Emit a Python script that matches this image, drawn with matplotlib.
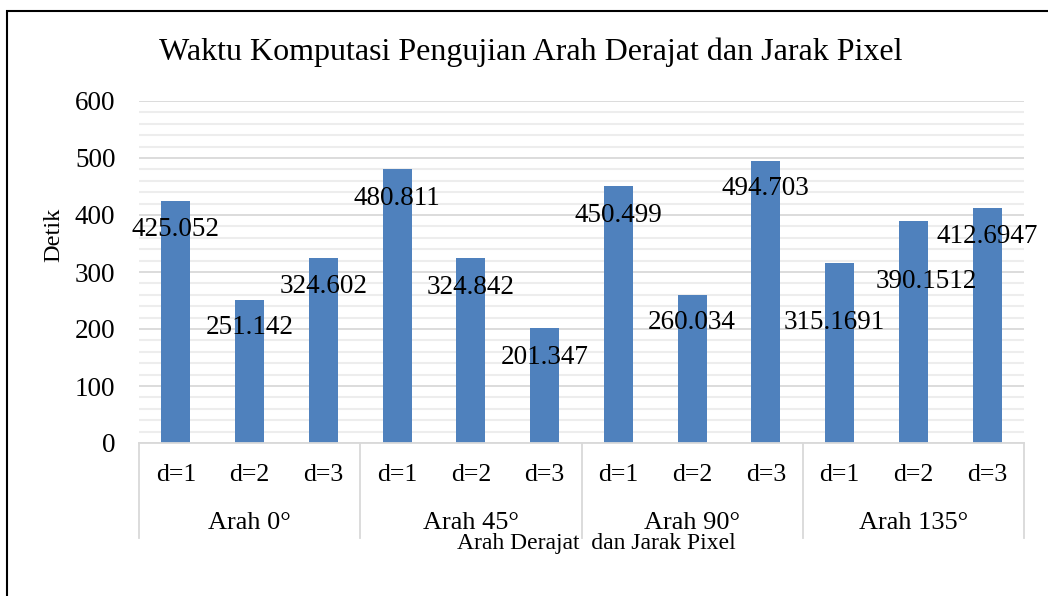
import matplotlib

matplotlib.use("Agg")
import matplotlib.pyplot as plt
from matplotlib.patches import Rectangle

plt.rcParams['font.family'] = ['Liberation Serif', 'DejaVu Serif']

# data
groups = ["Arah 0°", "Arah 45°", "Arah 90°", "Arah 135°"]
distances = ["d=1", "d=2", "d=3"]
values = [425.052, 251.142, 324.602,
          480.811, 324.842, 201.347,
          450.499, 260.034, 494.703,
          315.1691, 390.1512, 412.6947]
value_labels = ["425.052", "251.142", "324.602",
                "480.811", "324.842", "201.347",
                "450.499", "260.034", "494.703",
                "315.1691", "390.1512", "412.6947"]

# label offsets from bar top (pixels), Excel placed a couple by hand
label_dx = [0, 0, 0, 0, 0, 0, 0, 0, 0, -5, 13, 0]
label_dy = [-29, -28, -29, -30, -30, -29, -29, -28, -27, -59, -61, -29]

W, H = 1048, 596
fig = plt.figure(figsize=(W / 100, H / 100), dpi=100)
ax = fig.add_axes([139 / W, 1 - 443 / H, (1024 - 139) / W, (443 - 101) / H])

bar_color = "#4F81BD"
x = list(range(len(values)))
ax.bar(x, values, width=0.39, color=bar_color, zorder=3)

ax.set_xlim(-0.5, len(values) - 0.5)
ax.set_ylim(0, 600)
ax.set_yticks(range(0, 601, 100))
ax.set_yticks(range(0, 601, 20), minor=True)
ax.grid(axis="y", which="minor", color="#EDEDED", linewidth=1.5, zorder=0)
ax.grid(axis="y", which="major", color="#D9D9D9", linewidth=1.3, zorder=1)
ax.tick_params(axis="y", which="both", length=0, labelsize=19.5, pad=17)
ax.tick_params(axis="x", which="both", length=0, labelbottom=False)
for s in ["top", "right", "left"]:
    ax.spines[s].set_visible(False)
ax.spines["bottom"].set_color("#D9D9D9")
ax.spines["bottom"].set_linewidth(1.3)
ax.spines["bottom"].set_zorder(4)

# data labels
for i, v in enumerate(values):
    ax.annotate(value_labels[i], (i, v), xytext=(label_dx[i] * 0.72, label_dy[i] * 0.72),
                textcoords="offset points", ha="center", va="center", fontsize=19.5, zorder=5)

# multi-level category axis
tr = ax.get_xaxis_transform()
ax_h = 443 - 101
for i in x:
    ax.text(i, -32 / ax_h, distances[i % 3], transform=tr, ha="center", va="center", fontsize=18.5)
for g, name in enumerate(groups):
    ax.text(g * 3 + 1, -80 / ax_h, name, transform=tr, ha="center", va="center", fontsize=19)
for g in range(len(groups) + 1):
    ax.plot([g * 3 - 0.5] * 2, [0, -95 / ax_h], transform=tr, color="#D9D9D9",
            linewidth=1.3, clip_on=False)

fig.text(54 / W, 1 - 235 / H, "Detik", rotation=90, ha="center", va="center", fontsize=17.5)
fig.text(596 / W, 1 - 543 / H, "Arah Derajat  dan Jarak Pixel", ha="center", va="center", fontsize=17)
fig.text(531 / W, 1 - 52 / H, "Waktu Komputasi Pengujian Arah Derajat dan Jarak Pixel",
         ha="center", va="center", fontsize=23)

# outer border, runs past the right and bottom edges
fig.patches.append(Rectangle((7 / W, -0.1), 1.2, 1.1 - 11 / H, transform=fig.transFigure,
                             fill=False, edgecolor="black", linewidth=1.5))

fig.savefig("out.png", dpi=100)
